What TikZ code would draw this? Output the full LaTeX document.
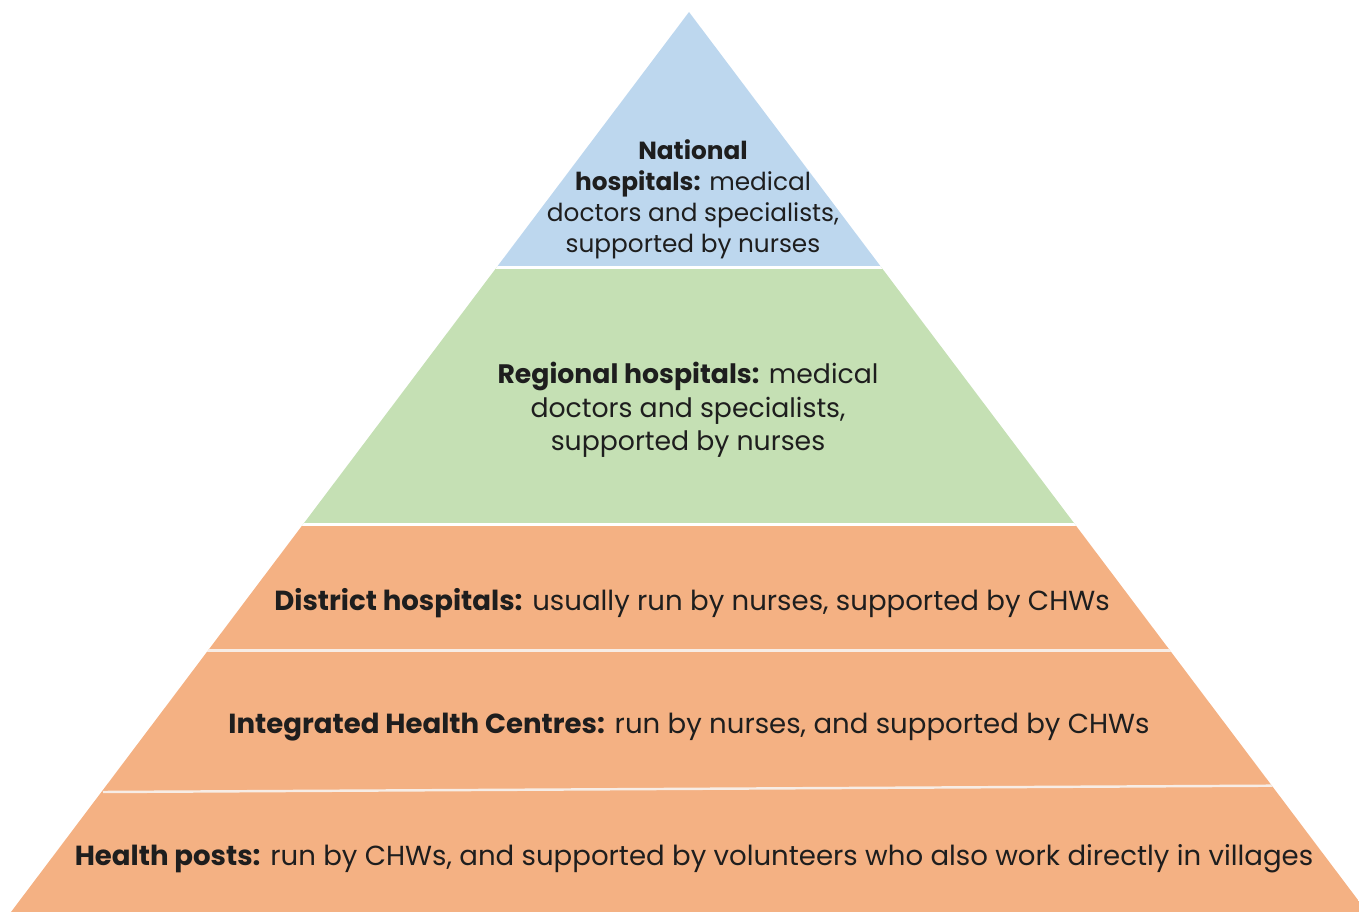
\documentclass[tikz,border=0pt]{standalone}
\usepackage{fontspec}
\setmainfont{Poppins}
\definecolor{natblue}{HTML}{BDD7EE}
\definecolor{reggreen}{HTML}{C5E0B4}
\definecolor{distorange}{HTML}{F4B183}
\definecolor{txt}{HTML}{1E1E1E}
\definecolor{sep}{HTML}{F7EDE6}
\tikzset{
  lbl/.style={text=txt, align=center, inner sep=0pt},
  wide/.style={font=\fontsize{15.7}{19.1}\selectfont},
  mid/.style={font=\fontsize{15.2}{19.1}\selectfont},
  small/.style={font=\fontsize{14.1}{17.6}\selectfont},
  gap/.style={draw=white, line width=1.8pt},
  orsep/.style={draw=sep, line width=1.4pt}
}
\begin{document}
\begin{tikzpicture}[x=0.02cm,y=-0.02cm]
\useasboundingbox (0,0) rectangle (1359,912);
\coordinate (apex) at (689,12);
\coordinate (bl) at (11,912);
\coordinate (br) at (1367,912);
\begin{scope}
  \clip (apex) -- (br) -- (bl) -- cycle;
  \fill[natblue] (0,0) rectangle (1400,267);
  \fill[reggreen] (0,267) rectangle (1400,525);
  \fill[distorange] (0,525) rectangle (1400,920);
  \draw[gap] (0,267.5) -- (1400,267.5);
  \draw[gap] (0,524.5) -- (1400,524.5);
  \draw[orsep] (0,650.5) -- (1400,650.5);
  \draw[orsep] (103,792) -- (1400,785);
\end{scope}
\node[lbl,small] (nat) at (693,199) {\textbf{National}\\\textbf{hospitals:} medical\\doctors and specialists,\\supported by nurses};
\node[lbl,mid] (reg) at (688,410) {\textbf{Regional hospitals:} medical\\doctors and specialists,\\supported by nurses};
\node[lbl,wide] (dist) at (692,603) {\textbf{District hospitals:} usually run by nurses, supported by CHWs};
\node[lbl,wide] (ihc) at (689,727) {\textbf{Integrated Health Centres:} run by nurses, and supported by CHWs};
\node[lbl,wide] (hp) at (694,859) {\textbf{Health posts:} run by CHWs, and supported by volunteers who also work directly in villages};
\end{tikzpicture}
\end{document}
